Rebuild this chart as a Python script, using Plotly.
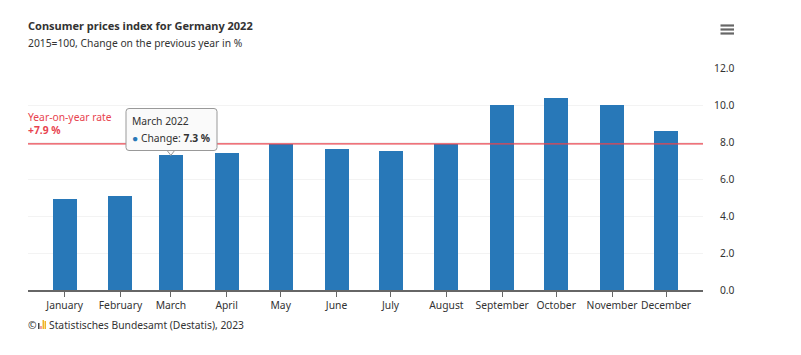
import plotly.graph_objects as go

months = ["January","February","March","April","May","June","July","August","September","October","November","December"]
dates = [f"2022-{m:02d}-01" for m in range(1, 13)]
change = [4.9, 5.1, 7.3, 7.4, 7.9, 7.6, 7.5, 7.9, 10.0, 10.4, 10.0, 8.6]
yoy_rate = 7.9
y_ticks = [0, 2, 4, 6, 8, 10, 12]
y_labels = ["\u20070.0", "\u20072.0", "\u20074.0", "\u20076.0", "\u20078.0", "10.0", "12.0"]

FONT = "Noto Sans"
W, H = 801, 355
L, R, T, B = 28, 98, 68, 65
DAY_MS = 86400000
pw, ph = W - L - R, H - T - B
def px(x): return (x - L) / pw
def py(y): return (H - B - y) / ph

fig = go.Figure()
fig.add_trace(go.Bar(x=dates, y=change, width=13.3 * DAY_MS, marker=dict(color="#2878b8", line_width=0),
                     name="Change", hovertemplate="%{x|%B %Y}<br>Change: <b>%{y} %</b><extra></extra>"))
# tooltip pointer for March
fig.add_trace(go.Scatter(x=[dates[2]], y=[change[2] + 0.22], mode="markers", hoverinfo="skip",
                         marker=dict(symbol="triangle-down", size=9, color="#fafafa",
                                     line=dict(color="#999999", width=1))))

shapes = [dict(type="line", xref="paper", yref="y", x0=0, x1=1, y0=yoy_rate, y1=yoy_rate,
               line=dict(color="#e8444f", width=1.3), layer="above")]
for y in (25.5, 29.5, 33.5):
    shapes.append(dict(type="line", xref="paper", yref="paper", x0=px(720.5), x1=px(734), y0=py(y), y1=py(y),
                       line=dict(color="#666666", width=2.2)))
# Destatis logo bars
for x0, x1, y0, c in [(38, 39.5, 323, "#444444"), (40.5, 41.5, 326, "#e8444f"), (42.5, 44, 320, "#f0b429"), (44.5, 46, 321, "#f0b429")]:
    shapes.append(dict(type="rect", xref="paper", yref="paper", x0=px(x0), x1=px(x1), y0=py(y0), y1=py(329),
                       fillcolor=c, line_width=0))
# tooltip box with rounded corners
bx0, bx1, by0, by1, r = px(126), px(217), py(150.5), py(108.5), 3
rx, ry = r / pw, r / ph
path = (f"M {bx0+rx} {by0} L {bx1-rx} {by0} Q {bx1} {by0} {bx1} {by0+ry} L {bx1} {by1-ry} Q {bx1} {by1} {bx1-rx} {by1} "
        f"L {bx0+rx} {by1} Q {bx0} {by1} {bx0} {by1-ry} L {bx0} {by0+ry} Q {bx0} {by0} {bx0+rx} {by0} Z")
shapes.append(dict(type="path", xref="paper", yref="paper", path=path, fillcolor="#fafafa",
                   line=dict(color="#999999", width=1), layer="above"))

def text(x, y, s, size, color="#333333", xanchor="left"):
    return dict(xref="paper", yref="paper", x=px(x), y=py(y), text=s, showarrow=False, xanchor=xanchor,
                yanchor="middle", align="left", font=dict(family=FONT, size=size, color=color),
                borderpad=0, borderwidth=0)

annotations = [
    text(28, 26, "<b>Consumer prices index for Germany 2022</b>", 11, "#333333"),
    text(28, 43.5, "2015=100, Change on the previous year in %", 10.3, "#333333"),
    text(28, 116.5, "Year-on-year rate", 10.3, "#e8444f"),
    text(28, 129.5, f"<b>+{yoy_rate} %</b>", 10.3, "#e8444f"),
    text(28, 324.5, "©", 10.3, "#333333"),
    text(49, 324.5, "Statistisches Bundesamt (Destatis), 2023", 10.3, "#333333"),
    text(132, 121, f"{months[2]} 2022", 10.3),
    text(132, 137.5, f"<span style='color:#2878b8'>●</span> Change: <b>{change[2]} %</b>", 10.3),
]

fig.update_layout(
    width=W, height=H, margin=dict(l=L, r=R, t=T, b=B), paper_bgcolor="white", plot_bgcolor="white",
    showlegend=False, bargap=0, shapes=shapes, annotations=annotations,
    font=dict(family=FONT, size=10.3, color="#333333"),
    xaxis=dict(type="date", range=["2021-12-11 16:00", "2022-12-21 12:00"], tickmode="array", tickvals=dates, ticktext=months,
               tickangle=0, ticks="outside", ticklen=5, tickcolor="#666666", tickwidth=1, showgrid=False, zeroline=False,
               showline=True, linecolor="#666666", linewidth=1.5, tickfont=dict(size=10.3)),
    yaxis=dict(side="right", range=[0, 12], tickmode="array", tickvals=y_ticks, ticktext=y_labels,
               showgrid=True, gridcolor="#f3f3f3", gridwidth=1, zeroline=False, showline=False,
               ticks="", ticklabelstandoff=10, tickfont=dict(size=10.3)),
)
fig.write_html("out.html", config={"displayModeBar": False},
               post_script="document.body.style.margin='0';")
